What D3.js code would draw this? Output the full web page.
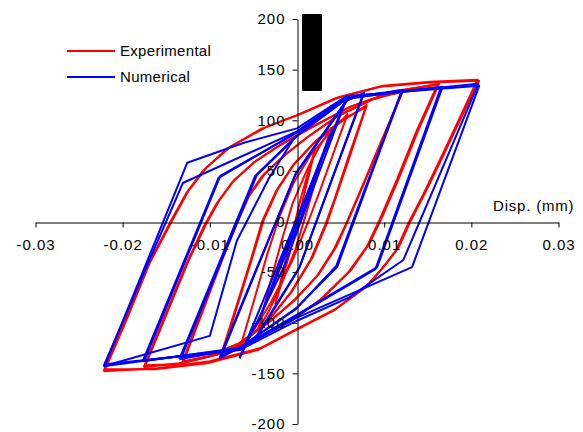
<!DOCTYPE html>
<html>
<head>
<meta charset="utf-8">
<script src="https://cdn.jsdelivr.net/npm/d3@7"></script>
<style>
  body { margin: 0; background: #fff; }
  svg { display: block; }
  text { font-family: "Liberation Sans", Arial, Helvetica, sans-serif; }
</style>
</head>
<body>
<div id="chart"></div>
<script>
// tick values
var xTicks = [-0.03, -0.02, -0.01, 0, 0.01, 0.02, 0.03];
var yTicks = [-200, -150, -100, -50, 0, 50, 100, 150, 200];

// experimental loops, [disp, force]
var expA1 = [[-0.0025,-82],[-0.0015,-45],[-0.0005,-10],[0.0005,25],[0.0014,52],[0.0021,72],[0.0012,40],[0.0003,8],[-0.0008,-30],[-0.0017,-58],[-0.0025,-82]];
var expA2 = [[-0.0045,-108],[-0.0032,-65],[-0.0018,-20],[-0.0005,18],[0.0012,52],[0.0027,76],[0.0039,92],[0.0025,52],[0.0012,12],[-0.0002,-28],[-0.0018,-62],[-0.0032,-88],[-0.0045,-108]];
var expA3 = [[-0.0066,-127],[-0.0050,-80],[-0.0034,-32],[-0.0020,5],[-0.0004,38],[0.0015,65],[0.0038,88],[0.0058,106],[0.0042,68],[0.0027,32],[0.0013,0],[-0.0005,-38],[-0.0030,-80],[-0.0050,-108],[-0.0066,-127]];
var expA4 = [[-0.0088,-134],[-0.0070,-85],[-0.0052,-35],[-0.0040,0],[-0.0024,30],[-0.0005,55],[0.0020,78],[0.0050,98],[0.0080,115],[0.0062,68],[0.0045,25],[0.0035,0],[0.0018,-35],[-0.0005,-68],[-0.0030,-95],[-0.0060,-118],[-0.0088,-134]];
var expA4b = [[-0.0086,-132],[-0.0068,-82],[-0.0050,-32],[-0.0038,2],[-0.0022,32],[-0.0003,57],[0.0022,80],[0.0051,100],[0.0079,113],[0.0060,66],[0.0043,22],[0.0033,-2],[0.0016,-37],[-0.0007,-70],[-0.0032,-97],[-0.0062,-119],[-0.0086,-132]];
var expA5 = [[-0.0132,-140],[-0.0110,-90],[-0.0088,-40],[-0.0072,-5],[-0.0058,22],[-0.0040,45],[-0.0015,65],[0.0010,82],[0.0045,103],[0.0085,120],[0.0122,130],[0.0100,85],[0.0078,40],[0.0058,0],[0.0045,-25],[0.0025,-52],[0,-75],[-0.0030,-98],[-0.0065,-120],[-0.0100,-133],[-0.0132,-140]];
var expA5b = [[-0.0130,-138],[-0.0107,-86],[-0.0085,-36],[-0.0069,-2],[-0.0055,25],[-0.0037,47],[-0.0012,67],[0.0013,84],[0.0048,105],[0.0087,121],[0.0121,128],[0.0098,82],[0.0076,37],[0.0056,-3],[0.0042,-28],[0.0022,-55],[-0.0003,-78],[-0.0033,-100],[-0.0068,-121],[-0.0102,-133],[-0.0130,-138]];
var expA6 = [[-0.0176,-144],[-0.0150,-90],[-0.0127,-42],[-0.0107,-5],[-0.0092,18],[-0.0075,38],[-0.0050,58],[-0.0020,75],[0.0015,92],[0.0060,113],[0.0110,128],[0.0163,136],[0.0140,92],[0.0118,45],[0.0098,5],[0.0083,-22],[0.0062,-48],[0.0030,-75],[-0.0005,-97],[-0.0045,-116],[-0.0090,-131],[-0.0135,-140],[-0.0176,-144]];
var expA6b = [[-0.0174,-142],[-0.0147,-86],[-0.0124,-38],[-0.0104,-2],[-0.0089,21],[-0.0072,41],[-0.0047,60],[-0.0017,77],[0.0018,94],[0.0063,114],[0.0112,129],[0.0161,135],[0.0137,89],[0.0115,42],[0.0095,2],[0.0080,-25],[0.0059,-50],[0.0027,-77],[-0.0008,-99],[-0.0048,-117],[-0.0093,-132],[-0.0137,-141],[-0.0174,-142]];
var expA7 = [[-0.0222,-148],[-0.0198,-100],[-0.0172,-45],[-0.0145,0],[-0.0127,28],[-0.0108,50],[-0.0080,72],[-0.0040,92],[0,105],[0.0045,122],[0.0095,133],[0.0150,137],[0.0209,139],[0.0188,102],[0.0166,62],[0.0148,30],[0.0130,0],[0.0117,-25],[0.0102,-42],[0.0082,-62],[0.0045,-86],[0,-106],[-0.0042,-125],[-0.0100,-138],[-0.0160,-145],[-0.0222,-148]];
var expA7b = [[-0.0220,-146],[-0.0195,-96],[-0.0169,-41],[-0.0142,3],[-0.0124,31],[-0.0104,53],[-0.0076,74],[-0.0036,93],[0.0004,106],[0.0049,123],[0.0099,134],[0.0153,138],[0.0207,140],[0.0185,99],[0.0163,59],[0.0145,27],[0.0127,-3],[0.0114,-28],[0.0099,-45],[0.0079,-65],[0.0042,-88],[-0.0003,-108],[-0.0045,-127],[-0.0103,-140],[-0.0163,-146],[-0.0220,-146]];

// numerical loops
var numA1 = [[-0.0028,-62],[0.0025,55],[-0.0028,-62]];
var numA2 = [[-0.0045,-100],[0.0005,5],[0.0040,90],[-0.0005,-10],[-0.0045,-100]];
var numA3 = [[-0.0066,-135],[0.0020,45],[0.0058,124],[-0.0015,-45],[-0.0066,-135]];
var numA4 = [[-0.0089,-135],[-0.0002,46],[0.0058,120],[0.0077,127],[0.0003,-45],[-0.0050,-118],[-0.0089,-135]];
var numA4b = [[-0.0087,-133],[-0.0001,48],[0.0056,119],[0.0076,126],[0.0002,-47],[-0.0048,-117],[-0.0087,-133]];
var numA5 = [[-0.0135,-136],[-0.0048,45],[0,85],[0.0058,122],[0.0121,130],[0.0046,-45],[0,-85],[-0.0066,-125],[-0.0135,-136]];
var numA5b = [[-0.0133,-135],[-0.0046,46],[0.0002,86],[0.0057,121],[0.0120,129],[0.0045,-44],[-0.0002,-87],[-0.0068,-126],[-0.0133,-135]];
var numA6 = [[-0.0177,-138],[-0.0090,43],[0,88],[0.0058,123],[0.0167,133],[0.0092,-45],[0,-92],[-0.0066,-125],[-0.0177,-138]];
var numA6b = [[-0.0175,-137],[-0.0088,45],[0.0002,89],[0.0057,122],[0.0165,132],[0.0090,-47],[-0.0002,-94],[-0.0068,-127],[-0.0175,-137]];
var numA7 = [[-0.0222,-143],[-0.0131,38],[0,89],[0.0058,124],[0.0209,134],[0.0132,-45],[0,-95],[-0.0066,-125],[-0.0222,-143]];
var numA7b = [[-0.0220,-141],[-0.0126,58],[-0.0060,78],[0,92],[0.0055,123],[0.0208,136],[0.0122,-38],[0.0060,-75],[0,-98],[-0.0066,-127],[-0.0220,-141]];
var numA7c = [[-0.0005,80],[-0.0032,43],[-0.0069,-19],[-0.0100,-113],[-0.0222,-143]];

var experimental = [expA1, expA2, expA3, expA4, expA4b, expA5, expA5b, expA6, expA6b, expA7, expA7b];
var numerical = [numA1, numA2, numA3, numA4, numA4b, numA5, numA5b, numA6, numA6b, numA7, numA7b, numA7c];

var W = 583, H = 432;
var svg = d3.select("#chart").append("svg")
    .attr("width", W)
    .attr("height", H);

var x = d3.scaleLinear().domain([-0.03, 0.03]).range([35.5, 558.5]);
var y = d3.scaleLinear().domain([-200, 200]).range([424, 19]);

var line = d3.line()
    .x(function (d) { return x(d[0]); })
    .y(function (d) { return y(d[1]); });

var gData = svg.append("g");

gData.selectAll(".exp")
    .data(experimental)
    .enter().append("path")
    .attr("class", "exp")
    .attr("d", line)
    .style("fill", "none")
    .style("stroke", "#ff0000")
    .style("stroke-width", 2)
    .style("stroke-linejoin", "round");

gData.selectAll(".num")
    .data(numerical)
    .enter().append("path")
    .attr("class", "num")
    .attr("d", line)
    .style("fill", "none")
    .style("stroke", "#0000ff")
    .style("stroke-width", 2)
    .style("stroke-linejoin", "round");

// axes crossing at the origin
var xAxis = svg.append("g")
    .attr("class", "axis axis--x")
    .attr("transform", "translate(0," + Math.round(y(0)) + ".5)")
    .call(d3.axisBottom(x).tickValues(xTicks).tickSize(5).tickSizeOuter(0).tickPadding(12)
        .tickFormat(function (d) { return d.toFixed(2); }));

var yAxis = svg.append("g")
    .attr("class", "axis axis--y")
    .attr("transform", "translate(" + Math.round(x(0)) + ".5,0)")
    .call(d3.axisLeft(y).tickValues(yTicks).tickSize(5).tickSizeOuter(0).tickPadding(7)
        .tickFormat(function (d) { return String(d); }));

svg.selectAll(".axis path, .axis line").style("stroke", "#000").style("stroke-width", 1);
svg.selectAll(".axis text")
    .style("font-size", "15px")
    .style("letter-spacing", "1px")
    .style("fill", "#000");

svg.append("text")
    .attr("x", 493)
    .attr("y", 211)
    .style("font-size", "15px")
    .style("letter-spacing", "0.8px")
    .text("Disp. (mm)");

// legend
var legend = [
    { name: "Experimental", color: "#ff0000", y: 51 },
    { name: "Numerical", color: "#0000ff", y: 77 }
];
var gLegend = svg.append("g");
gLegend.selectAll("line")
    .data(legend)
    .enter().append("line")
    .attr("x1", 67).attr("x2", 115)
    .attr("y1", function (d) { return d.y; })
    .attr("y2", function (d) { return d.y; })
    .style("stroke", function (d) { return d.color; })
    .style("stroke-width", 2);
gLegend.selectAll("text")
    .data(legend)
    .enter().append("text")
    .attr("x", 120)
    .attr("y", function (d) { return d.y + 5; })
    .style("font-size", "15px")
    .style("letter-spacing", "0.3px")
    .text(function (d) { return d.name; });

// black box next to the force axis
svg.append("rect")
    .attr("x", 302).attr("y", 14)
    .attr("width", 20).attr("height", 77)
    .attr("rx", 1.5)
    .style("fill", "#000");
</script>
</body>
</html>
